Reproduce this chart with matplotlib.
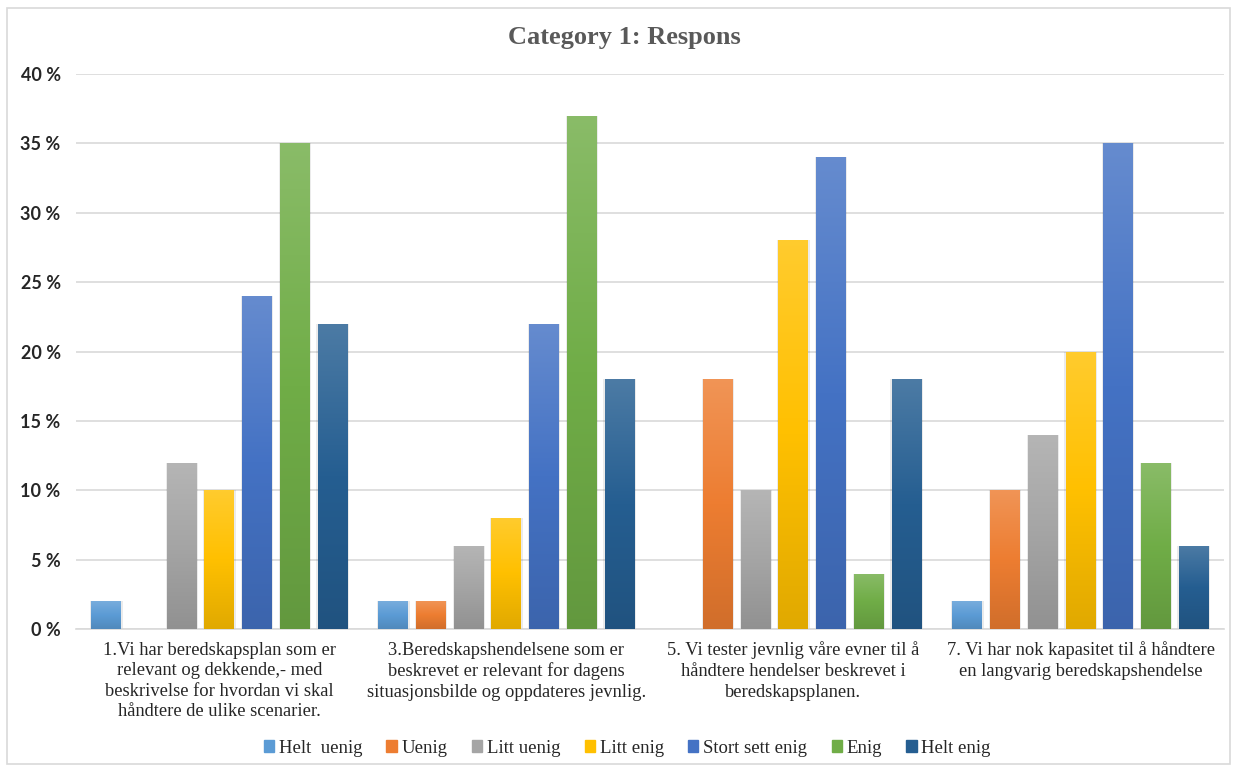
import numpy as np
import matplotlib.pyplot as plt
import matplotlib.colors as mcolors
from matplotlib.patches import Rectangle

# survey statements (x axis categories)
categories = [
    "1.Vi har beredskapsplan som er\nrelevant og dekkende,- med\nbeskrivelse for hvordan vi skal\nhåndtere de ulike scenarier.",
    "3.Beredskapshendelsene som er\nbeskrevet er relevant for dagens\nsituasjonsbilde og oppdateres jevnlig.",
    "5. Vi tester jevnlig våre evner til å\nhåndtere hendelser beskrevet i\nberedskapsplanen.",
    "7. Vi har nok kapasitet til å håndtere\nen langvarig beredskapshendelse",
]

responses = ["Helt  uenig", "Uenig", "Litt uenig", "Litt enig",
             "Stort sett enig", "Enig", "Helt enig"]

# share of answers per response option, one list per statement (fractions)
helt_uenig = [0.02, 0.02, 0.00, 0.02]
uenig = [0.00, 0.02, 0.18, 0.10]
litt_uenig = [0.12, 0.06, 0.10, 0.14]
litt_enig = [0.10, 0.08, 0.28, 0.20]
stort_sett_enig = [0.24, 0.22, 0.34, 0.35]
enig = [0.35, 0.37, 0.04, 0.12]
helt_enig = [0.22, 0.18, 0.18, 0.06]

series = [helt_uenig, uenig, litt_uenig, litt_enig, stort_sett_enig, enig, helt_enig]
colors = ["#5B9BD5", "#ED7D31", "#A5A5A5", "#FFC000", "#4472C4", "#70AD47", "#255E91"]

serif = ["Liberation Serif", "DejaVu Serif"]

fig = plt.figure(figsize=(12.37, 7.69), dpi=100)
ax = fig.add_axes([0.0614, 0.182, 0.9281, 0.7218])

x = np.arange(len(categories))
step = 0.1313
width = 0.1045


def shade(c, f):
    r, g, b = mcolors.to_rgb(c)
    if f > 0:
        return (r + (1 - r) * f, g + (1 - g) * f, b + (1 - b) * f)
    return (r * (1 + f), g * (1 + f), b * (1 + f))


for i, (vals, col) in enumerate(zip(series, colors)):
    pos = x + (i - 3) * step
    bars = ax.bar(pos, vals, width, color=col, label=responses[i], zorder=3,
                  edgecolor="none")
    cmap = mcolors.LinearSegmentedColormap.from_list(
        "g%d" % i, [shade(col, -0.12), col, shade(col, 0.18)])
    grad = np.linspace(0, 1, 256).reshape(-1, 1)
    for b in bars:
        h = b.get_height()
        if h <= 0:
            continue
        bx, bw = b.get_x(), b.get_width()
        # soft shadow at the sides of each bar
        ax.add_patch(Rectangle((bx - 0.004, 0), bw + 0.008, h,
                               color="#000000", alpha=0.08, lw=0, zorder=2))
        im = ax.imshow(grad, cmap=cmap, origin="lower", aspect="auto",
                       extent=[bx, bx + bw, 0, h], zorder=4)
        im.set_clip_path(b)

ax.set_xlim(-0.5, 3.5)
ax.set_ylim(0, 0.40)
ax.set_yticks(np.arange(0, 0.41, 0.05))
ax.set_yticklabels(["%d %%" % round(v * 100) for v in np.arange(0, 0.41, 0.05)],
                   fontfamily="Lato", fontweight="bold", fontsize=13, color="#262626")
ax.yaxis.grid(True, color="#D9D9D9", lw=1.2, zorder=0)
ax.set_axisbelow(True)
ax.tick_params(axis="y", length=0, pad=11)
ax.tick_params(axis="x", length=0, pad=9)
ax.set_xticks(x)
ax.set_xticklabels(categories, fontfamily=serif, fontsize=13.3, color="#262626",
                   linespacing=1.28, va="top")
for s in ["top", "right", "left"]:
    ax.spines[s].set_visible(False)
ax.spines["bottom"].set_color("#D9D9D9")
ax.spines["bottom"].set_linewidth(1.2)

fig.text(0.505, 0.951, "Category 1: Respons", ha="center", va="center",
         fontfamily=serif, fontweight="bold", fontsize=19, color="#595959")

handles = [Rectangle((0, 0), 1, 1, color=c) for c in colors]
fig.legend(handles, responses, loc="center", bbox_to_anchor=(0.507, 0.027),
           ncol=7, frameon=False, prop={"family": serif, "size": 13.5},
           handlelength=0.55, handleheight=0.55, handletextpad=0.25,
           columnspacing=1.3, labelcolor="#262626")

# light frame around the chart area
fig.patches.append(Rectangle((0.006, 0.006), 0.988, 0.984, transform=fig.transFigure,
                             fill=False, edgecolor="#D9D9D9", lw=1.2))

fig.savefig("out.png", dpi=100, facecolor="white")
